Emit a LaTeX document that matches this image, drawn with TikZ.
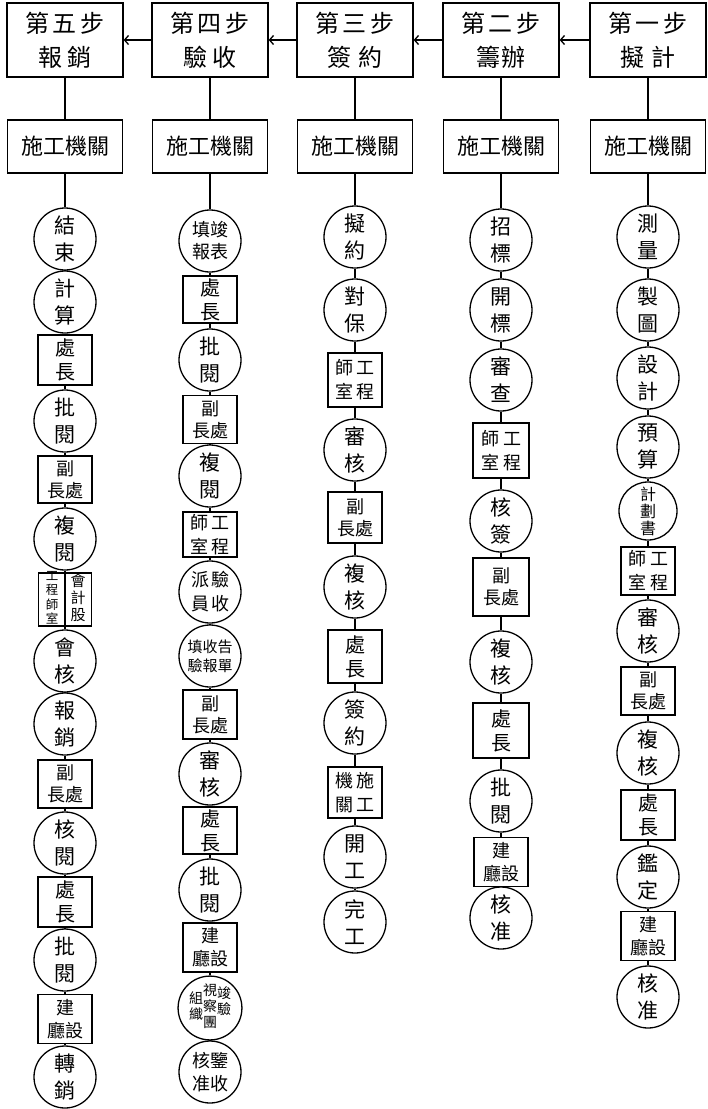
\documentclass[tikz,border=0pt]{standalone}
\usepackage{fontspec}
\setmainfont{Noto Sans CJK TC}
\usetikzlibrary{arrows.meta}
\newcommand{\vcol}[1]{\begin{tabular}{@{}c@{}}#1\end{tabular}}

\begin{document}
\begin{tikzpicture}[
  x=1pt,
  y=-1pt,
  line width=1.3pt,
  stepbox/.style={draw,minimum width=116pt,minimum height=74pt,inner sep=0pt,
    align=center,font=\fontsize{24}{34}\selectfont},
  unitbox/.style={draw,minimum width=115pt,minimum height=53pt,inner sep=0pt,
    font=\fontsize{22}{26}\selectfont},
  act/.style={draw,circle,minimum size=62pt,inner sep=0pt,align=center,
    font=\fontsize{21}{27}\selectfont},
  office/.style={draw,minimum width=54pt,minimum height=50pt,inner sep=0pt,
    align=center,font=\fontsize{20}{24}\selectfont},
  deputy/.style={office,minimum height=48pt,font=\fontsize{18}{22}\selectfont},
  hall/.style={office,minimum height=49pt,font=\fontsize{18}{23}\selectfont},
  lab/.style={office,font=\fontsize{18}{24}\selectfont},
  link/.style={line width=1.1pt},
  flow/.style={-{Straight Barb[length=4pt,width=9pt]},line width=1.3pt}
]
\useasboundingbox (0,0) rectangle (708,1109);

% Steps and executing units
\node[stepbox] (sa) at (648,40) {第\,一\,步\\擬\hspace{8pt}計};
\node[stepbox] (sb) at (501,40) {第\,二\,步\\籌\hspace{2pt}辦};
\node[stepbox] (sc) at (355,40) {第\,三\,步\\簽\hspace{8pt}約};
\node[stepbox] (sd) at (210,40) {第\,四\,步\\驗\hspace{6pt}收};
\node[stepbox] (se) at (65,40) {第\,五\,步\\報\hspace{6pt}銷};

\foreach \col/\x in {a/648,b/501,c/355,d/210,e/65}{
  \node[unitbox] (u\col) at (\x,146.5) {施工機關};
}

% Step 1
\node[act] (a1) at (648,237) {測\\量};
\node[act] (a2) at (648,310) {製\\圖};
\node[act] (a3) at (648,378) {設\\計};
\node[act] (a4) at (648,447) {預\\算};
\node[act,minimum size=58pt,font=\fontsize{16}{17}\selectfont] (a5) at (648,511) {計\\劃\\書};
\node[lab,minimum height=48pt] (a6) at (648,571) {師\hspace{4pt}工\\室\hspace{4pt}程};
\node[act] (a7) at (648,631) {審\\核};
\node[deputy] (a8) at (648,691) {副\\長處};
\node[act] (a9) at (648,753) {複\\核};
\node[office] (a10) at (648,815) {處\\長};
\node[act] (a11) at (648,877) {鑑\\定};
\node[hall] (a12) at (648,936) {建\\廳設};
\node[act] (a13) at (648,997) {核\\准};

% Step 2
\node[act] (b1) at (501,240) {招\\標};
\node[act] (b2) at (501,310) {開\\標};
\node[act] (b3) at (501,380) {審\\查};
\node[lab,minimum width=56pt,minimum height=55pt] (b4) at (501,450.5) {師\hspace{4pt}工\\室\hspace{4pt}程};
\node[act] (b5) at (501,521) {核\\簽};
\node[deputy,minimum width=56pt,minimum height=58pt] (b6) at (501,587) {副\\長處};
\node[act] (b7) at (501,662) {複\\核};
\node[office,minimum width=56pt,minimum height=55pt] (b8) at (501,730.5) {處\\長};
\node[act] (b9) at (501,801) {批\\閱};
\node[hall] (b10) at (501,862) {建\\廳設};
\node[act] (b11) at (501,918) {核\\准};

% Step 3
\node[act] (c1) at (355,237) {擬\\約};
\node[act] (c2) at (355,310) {對\\保};
\node[lab,minimum height=54pt] (c3) at (355,380) {師\hspace{4pt}工\\室\hspace{4pt}程};
\node[act] (c4) at (355,450) {審\\核};
\node[deputy,minimum height=51pt] (c5) at (355,517.5) {副\\長處};
\node[act] (c6) at (355,587) {複\\核};
\node[office,minimum height=53pt] (c7) at (355,656.5) {處\\長};
\node[act] (c8) at (355,723) {簽\\約};
\node[lab,minimum height=51pt] (c9) at (355,792.5) {機\hspace{4pt}施\\關\hspace{4pt}工};
\node[act] (c10) at (355,857) {開\\工};
\node[act] (c11) at (355,922) {完\\工};

% Step 4
\node[act,font=\fontsize{18}{22}\selectfont] (d1) at (210,241) {填竣\\報表};
\node[office,minimum height=47pt] (d2) at (210,299.5) {處\\長};
\node[act] (d3) at (210,360) {批\\閱};
\node[deputy] (d4) at (210,419.5) {副\\長處};
\node[act] (d5) at (210,476) {複\\閱};
\node[lab,minimum height=45pt] (d6) at (210,534.5) {師\hspace{4pt}工\\室\hspace{4pt}程};
\node[act,font=\fontsize{18}{24}\selectfont] (d7) at (210,592) {派\hspace{2pt}驗\\員\hspace{2pt}收};
\node[act,font=\fontsize{15}{19}\selectfont] (d8) at (210,656) {填收告\\驗報單};
\node[deputy,minimum height=49pt] (d9) at (210,714.5) {副\\長處};
\node[act] (d10) at (210,774) {審\\核};
\node[office,minimum height=47pt] (d11) at (210,830.5) {處\\長};
\node[act] (d12) at (210,890) {批\\閱};
\node[hall] (d13) at (210,947.5) {建\\廳設};
\node[act,font=\fontsize{14}{15}\selectfont] (d14) at (210,1008)
  {\vcol{組\\織}\vcol{視\\察\\團}\raisebox{5pt}{\vcol{竣\\驗}}};
\node[act,font=\fontsize{18}{23}\selectfont] (d15) at (210,1072) {核鑒\\准收};

% Step 5
\node[act] (e1) at (65,239) {結\\束};
\node[act] (e2) at (65,302) {計\\算};
\node[office] (e3) at (65,360) {處\\長};
\node[act] (e4) at (65,421) {批\\閱};
\node[deputy,minimum height=47pt] (e5) at (65,479.5) {副\\長處};
\node[act] (e6) at (65,539) {複\\閱};
\node[office,minimum width=53pt,minimum height=53pt] (e7) at (65,599.5) {};
\node[font=\fontsize{12.5}{12.5}\selectfont] (e7l) at ([xshift=-13pt]e7.center) {\vcol{工\\程\\師\\室}};
\node[font=\fontsize{15}{16}\selectfont] (e7r) at ([xshift=13pt]e7.center) {\vcol{會\\計\\股}};
\draw (e7.north) -- (e7.south);
\node[act] (e8) at (65,661) {會\\核};
\node[act] (e9) at (65,724) {報\\銷};
\node[deputy] (e10) at (65,784) {副\\長處};
\node[act] (e11) at (65,843) {核\\閱};
\node[office] (e12) at (65,902) {處\\長};
\node[act] (e13) at (65,960) {批\\閱};
\node[hall] (e14) at (65,1019) {建\\廳設};
\node[act] (e15) at (65,1077) {轉\\銷};

% Connectors
\foreach \r/\l in {sa/sb,sb/sc,sc/sd,sd/se}
  \draw[flow] (\r) -- (\l);
\foreach \col/\last in {a/13,b/11,c/11,d/15,e/15}{
  \draw[link] (s\col) -- (u\col) -- (\col1);
  \foreach \i [remember=\i as \j (initially 1)] in {2,...,\last}
    \draw[link] (\col\j) -- (\col\i);
}

\end{tikzpicture}
\end{document}
